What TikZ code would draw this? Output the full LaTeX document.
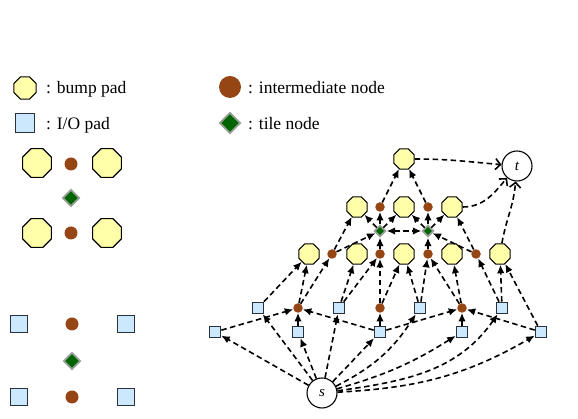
\documentclass[tikz,border=0pt]{standalone}
\usepackage{fontspec}
\setmainfont{Liberation Serif}
\usetikzlibrary{shapes.geometric,arrows.meta}
\definecolor{padyellow}{RGB}{255,255,170}
\definecolor{ioblue}{RGB}{204,232,252}
\definecolor{interbrown}{RGB}{150,70,20}
\definecolor{tilegreen}{RGB}{0,100,0}
\definecolor{tilegray}{RGB}{150,160,150}
\definecolor{iodraw}{RGB}{40,50,60}
\begin{document}
\begin{tikzpicture}[x=1pt,y=1pt,
 bump/.style={regular polygon, regular polygon sides=8, draw=black, fill=padyellow, line width=1.1pt, inner sep=0pt, minimum size=#1},
 bump/.default=22pt,
 iopad/.style={rectangle, draw=iodraw, fill=ioblue, line width=1.1pt, inner sep=0pt, minimum size=#1},
 iopad/.default=11.5pt,
 inter/.style={circle, fill=interbrown, inner sep=0pt, minimum size=#1},
 inter/.default=9.5pt,
 tile/.style={diamond, draw=tilegray, fill=tilegreen, line width=1.8pt, inner sep=0pt, minimum size=#1},
 tile/.default=11.5pt,
 term/.style={circle, draw=black, fill=white, line width=1.1pt, minimum size=30pt, inner sep=0pt, font=\fontsize{15}{15}\selectfont\itshape},
 lbl/.style={anchor=base west, inner sep=0pt, font=\fontsize{17.5}{20}\selectfont},
 dedge/.style={line width=1.6pt, dash pattern=on 5.5pt off 3.5pt, -{Latex[length=8.5pt,width=7.5pt]}},
 dedgeboth/.style={line width=1.6pt, dash pattern=on 5.5pt off 3.5pt, {Latex[length=8.5pt,width=7.5pt]}-{Latex[length=8.5pt,width=7.5pt]}},
 sinkedge/.style={line width=1.6pt, dash pattern=on 5.5pt off 3.5pt, -{Straight Barb[length=5pt,width=11pt]}},
]
\useasboundingbox (0,0) rectangle (578,419);
\fill[white] (0,0) rectangle (578,419);

% legend
\node[bump=24pt] (lb) at (25,331) {};
\node[lbl] (lbt) at (46,325) {: bump pad};
\node[iopad=19pt] (lio) at (25,296) {};
\node[lbl] (liot) at (46,289) {: I/O pad};
\node[inter=22pt] (lin) at (230,332) {};
\node[lbl] (lint) at (248,325) {: intermediate node};
\node[tile=21pt] (lti) at (230,296) {};
\node[lbl] (ltit) at (248,289) {: tile node};

% left illustrations
\node[bump=31pt] (a1) at (37,256) {};
\node[bump=31pt] (a2) at (107,256) {};
\node[inter=13pt] (ac1) at (71,255) {};
\node[tile=17pt] (ad) at (71,221) {};
\node[bump=31pt] (a3) at (37,186) {};
\node[bump=31pt] (a4) at (107,186) {};
\node[inter=13pt] (ac2) at (71,186) {};

\node[iopad=17pt] (b1) at (19,95) {};
\node[iopad=17pt] (b2) at (126,95) {};
\node[inter=13pt] (bc1) at (72,95) {};
\node[tile=17pt] (bd) at (72,58) {};
\node[iopad=17pt] (b3) at (19,22) {};
\node[iopad=17pt] (b4) at (126,22) {};
\node[inter=13pt] (bc2) at (72,22) {};

% graph nodes
\node[term] (s) at (322,26) {s};
\node[term] (t) at (517,253) {t};
\node[bump] (otop) at (404,260) {};
\node[bump] (o21) at (357,212) {};
\node[inter] (c21) at (380,212) {};
\node[bump] (o22) at (404,212) {};
\node[inter] (c22) at (428,212) {};
\node[bump] (o23) at (452,212) {};
\node[tile] (t1) at (380,188) {};
\node[tile] (t2) at (428,188) {};
\node[bump] (o41) at (309,165) {};
\node[inter] (c41) at (332,165) {};
\node[bump] (o42) at (357,165) {};
\node[inter] (c42) at (380,165) {};
\node[bump] (o43) at (404,165) {};
\node[inter] (c43) at (428,165) {};
\node[bump] (o44) at (452,165) {};
\node[inter] (c44) at (476,165) {};
\node[bump] (o45) at (500,165) {};
\node[iopad] (s51) at (258,111) {};
\node[inter] (m51) at (298,111) {};
\node[iopad] (s52) at (339,111) {};
\node[inter] (m52) at (380,111) {};
\node[iopad] (s53) at (420,111) {};
\node[inter] (m53) at (462,111) {};
\node[iopad] (s54) at (502,111) {};
\node[iopad] (s61) at (215,87) {};
\node[iopad] (s62) at (298,87) {};
\node[iopad] (s63) at (380,87) {};
\node[iopad] (s64) at (462,87) {};
\node[iopad] (s65) at (541,87) {};

% edges from s
\draw[dedge] (s) -- (s61);
\draw[dedge] (s) -- (s51);
\draw[dedge] (s) -- (s62);
\draw[dedge] (s) -- (s52);
\draw[dedge] (s) -- (s63);
\draw[dedge] (s) to[bend right=15] (s53);
\draw[dedge] (s) to[bend right=8] (s64);
\draw[dedge] (s) to[out=8,in=-125] (s54);
\draw[dedge] (s) to[out=3,in=-150] (s65);

% row 6 to row 5
\draw[dedge] (s61) -- (m51);
\draw[dedge] (s62) -- (m51);
\draw[dedge] (s63) -- (m51);
\draw[dedge] (s63) -- (m52);
\draw[dedge] (s63) -- (m53);
\draw[dedge] (s64) -- (m53);
\draw[dedge] (s65) -- (m53);

% row 5/6 to row 4
\draw[dedge] (s51) -- (o41);
\draw[dedge] (m51) -- (o41);
\draw[dedge] (m51) -- (c41);
\draw[dedge] (s52) -- (o42);
\draw[dedge] (s52) -- (c42);
\draw[dedge] (m52) -- (c42);
\draw[dedge] (m52) -- (o43);
\draw[dedge] (s53) -- (o43);
\draw[dedge] (s53) -- (c43);
\draw[dedge] (m53) -- (c43);
\draw[dedge] (m53) -- (o44);
\draw[dedge] (s54) -- (c44);
\draw[dedge] (s54) -- (o45);
\draw[dedge] (s65) -- (o45);

% row 4 to tiles / row 2
\draw[dedge] (c41) -- (o21);
\draw[dedge] (c41) -- (t1);
\draw[dedge] (c42) -- (t1);
\draw[dedge] (c43) -- (t2);
\draw[dedge] (c44) -- (t2);
\draw[dedge] (c44) -- (o23);
\draw[dedgeboth] (t1) -- (t2);
\draw[dedge] (t1) -- (c21);
\draw[dedge] (t1) -- (o21);
\draw[dedge] (t1) -- (o22);
\draw[dedge] (t2) -- (c22);
\draw[dedge] (t2) -- (o22);
\draw[dedge] (t2) -- (o23);

% row 2 to top
\draw[dedge] (c21) -- (otop);
\draw[dedge] (c22) -- (otop);

% to sink
\draw[sinkedge] (otop) to[out=0,in=175] (t);
\draw[sinkedge] (o23) to[out=0,in=-130] (t);
\draw[sinkedge] (o45) to[out=80,in=-95] (t);
\end{tikzpicture}
\end{document}
